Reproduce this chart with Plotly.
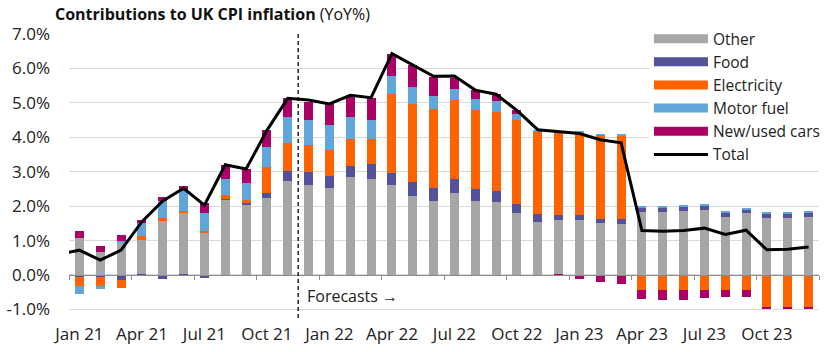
import plotly.graph_objects as go

# ---------------- data ----------------
months = ["Jan 21", "Feb 21", "Mar 21", "Apr 21", "May 21", "Jun 21",
          "Jul 21", "Aug 21", "Sep 21", "Oct 21", "Nov 21", "Dec 21",
          "Jan 22", "Feb 22", "Mar 22", "Apr 22", "May 22", "Jun 22",
          "Jul 22", "Aug 22", "Sep 22", "Oct 22", "Nov 22", "Dec 22",
          "Jan 23", "Feb 23", "Mar 23", "Apr 23", "May 23", "Jun 23",
          "Jul 23", "Aug 23", "Sep 23", "Oct 23", "Nov 23", "Dec 23"]

other = [1.06, 0.68, 0.92, 1.03, 1.58, 1.79, 1.23, 2.19, 2.02, 2.25, 2.74, 2.60,
         2.52, 2.84, 2.78, 2.61, 2.29, 2.14, 2.39, 2.16, 2.13, 1.79, 1.53, 1.59,
         1.60, 1.51, 1.48, 1.83, 1.83, 1.86, 1.88, 1.69, 1.80, 1.65, 1.65, 1.68]
food = [-0.06, -0.06, -0.15, -0.03, -0.12, -0.03, -0.08, 0.03, 0.08, 0.13, 0.29, 0.40,
        0.35, 0.34, 0.43, 0.36, 0.40, 0.38, 0.41, 0.35, 0.32, 0.26, 0.23, 0.16,
        0.13, 0.13, 0.14, 0.13, 0.14, 0.13, 0.14, 0.13, 0.11, 0.14, 0.14, 0.14]
electricity = [-0.26, -0.26, -0.24, 0.09, 0.08, 0.08, 0.06, 0.09, 0.09, 0.75, 0.79, 0.78,
               0.75, 0.76, 0.73, 2.30, 2.29, 2.29, 2.29, 2.29, 2.29, 2.45, 2.42, 2.38,
               2.42, 2.43, 2.43, -0.45, -0.45, -0.45, -0.44, -0.44, -0.44, -0.92, -0.92, -0.92]
motor_fuel = [-0.23, -0.09, 0.08, 0.38, 0.50, 0.56, 0.50, 0.49, 0.49, 0.59, 0.77, 0.72,
              0.75, 0.66, 0.57, 0.51, 0.48, 0.39, 0.30, 0.31, 0.31, 0.19, 0.03, 0.06,
              0.03, 0.02, 0.02, 0.04, 0.02, 0.03, 0.03, 0.02, 0.05, 0.05, 0.05, 0.03]
cars = [0.23, 0.17, 0.15, 0.10, 0.11, 0.15, 0.31, 0.39, 0.40, 0.49, 0.54, 0.53,
        0.59, 0.58, 0.63, 0.63, 0.63, 0.55, 0.34, 0.27, 0.20, 0.09, 0.00, -0.04,
        -0.13, -0.19, -0.25, -0.26, -0.29, -0.29, -0.22, -0.19, -0.19, -0.08, -0.08, -0.08]

# Total line, starting with Dec 20 (just off the left edge of the axis)
total_months = ["Dec 20"] + months
total = [0.60, 0.72, 0.43, 0.72, 1.55, 2.15, 2.52, 2.03, 3.20, 3.08, 4.20, 5.13, 5.08,
         4.97, 5.22, 5.15, 6.43, 6.10, 5.77, 5.78, 5.37, 5.25, 4.78, 4.22, 4.16,
         4.11, 3.93, 3.84, 1.29, 1.27, 1.29, 1.36, 1.18, 1.30, 0.73, 0.75, 0.81]

tick_labels = ["Jan 21", "Apr 21", "Jul 21", "Oct 21", "Jan 22", "Apr 22", "Jul 22",
               "Oct 22", "Jan 23", "Apr 23", "Jul 23", "Oct 23"]
y_ticks = [-1, 0, 1, 2, 3, 4, 5, 6, 7]
y_tick_labels = ["-1.0%", "0.0%", "1.0%", "2.0%", "3.0%", "4.0%", "5.0%", "6.0%", "7.0%"]
forecast_start = "Dec 21"

series = [("Other", other, "#A6A6A6"),
          ("Food", food, "#525199"),
          ("Electricity", electricity, "#FF6200"),
          ("Motor fuel", motor_fuel, "#60A6DA"),
          ("New/used cars", cars, "#AB0066")]

# ---------------- figure ----------------
FONT = "Open Sans"
pos = {m: i for i, m in enumerate(total_months, start=-1)}
xb = [pos[m] for m in months]
xt = [pos[m] for m in total_months]
y_min, y_max = -1.25, 7.0

fig = go.Figure()
for name, vals, col in series:
    fig.add_trace(go.Bar(x=xb, y=vals, name=name, marker=dict(color=col, line=dict(width=0)),
                         width=0.43, showlegend=False))
# legend proxies (wide coloured strips)
for name, vals, col in series:
    fig.add_trace(go.Scatter(x=[None], y=[None], mode="lines", name=name,
                             line=dict(color=col, width=9)))
fig.add_trace(go.Scatter(x=xt, y=total, mode="lines", name="Total",
                         line=dict(color="black", width=3)))
# invisible trace for the axis drawn at zero
fig.add_trace(go.Scatter(x=[None], y=[None], xaxis="x2", showlegend=False, hoverinfo="skip"))

tick_pos = [pos[m] for m in tick_labels]
boundaries = [p - 0.5 for p in tick_pos] + [pos[months[-1]] + 0.5]
fc = pos[forecast_start] - 0.5

fig.update_layout(
    width=832, height=352,
    margin=dict(l=62, r=7, t=34, b=32),
    paper_bgcolor="white", plot_bgcolor="white",
    barmode="relative", bargap=0,
    font=dict(family=FONT, size=17, color="#222222"),
    title=dict(text="<b>Contributions to UK CPI inflation</b> (YoY%)",
               x=55 / 832, xanchor="left", xref="container",
               y=1 - 14 / 352, yanchor="middle", yref="container",
               font=dict(family=FONT, size=16, color="#111111")),
    xaxis=dict(range=[-0.5, 35.5], tickmode="array", tickvals=tick_pos, ticktext=tick_labels,
               ticks="", showline=False, showgrid=False, zeroline=False,
               ticklabelstandoff=4),
    xaxis2=dict(range=[-0.5, 35.5], overlaying="x", anchor="free",
                position=(0 - y_min) / (y_max - y_min),
                tickmode="array", tickvals=boundaries, ticks="outside", ticklen=4,
                tickcolor="#8c8c8c", showline=True, linecolor="#8c8c8c", linewidth=1,
                showticklabels=False, showgrid=False, zeroline=False),
    yaxis=dict(range=[y_min, y_max], tickmode="array", tickvals=y_ticks, ticktext=y_tick_labels,
               showgrid=True, gridcolor="#d9d9d9", gridwidth=1, zeroline=False,
               showline=False, ticks="", ticklabelstandoff=18),
    legend=dict(x=(652 - 62) / (825 - 62), xanchor="left",
                y=(320 - 22) / (320 - 34), yanchor="top",
                bgcolor="white", borderwidth=0, traceorder="normal", itemwidth=54,
                font=dict(family=FONT, size=15.5, color="#222222")),
    shapes=[dict(type="line", xref="x", yref="paper", x0=fc, x1=fc, y0=0, y1=1,
                 line=dict(color="black", width=1.3, dash="4px,3px"))],
    annotations=[dict(text="Forecasts \u2192", xref="x", yref="y", x=fc, y=-0.6,
                      xanchor="left", yanchor="middle", xshift=7, showarrow=False,
                      font=dict(family=FONT, size=16, color="#222222"))],
)

fig.write_html("out.html")
